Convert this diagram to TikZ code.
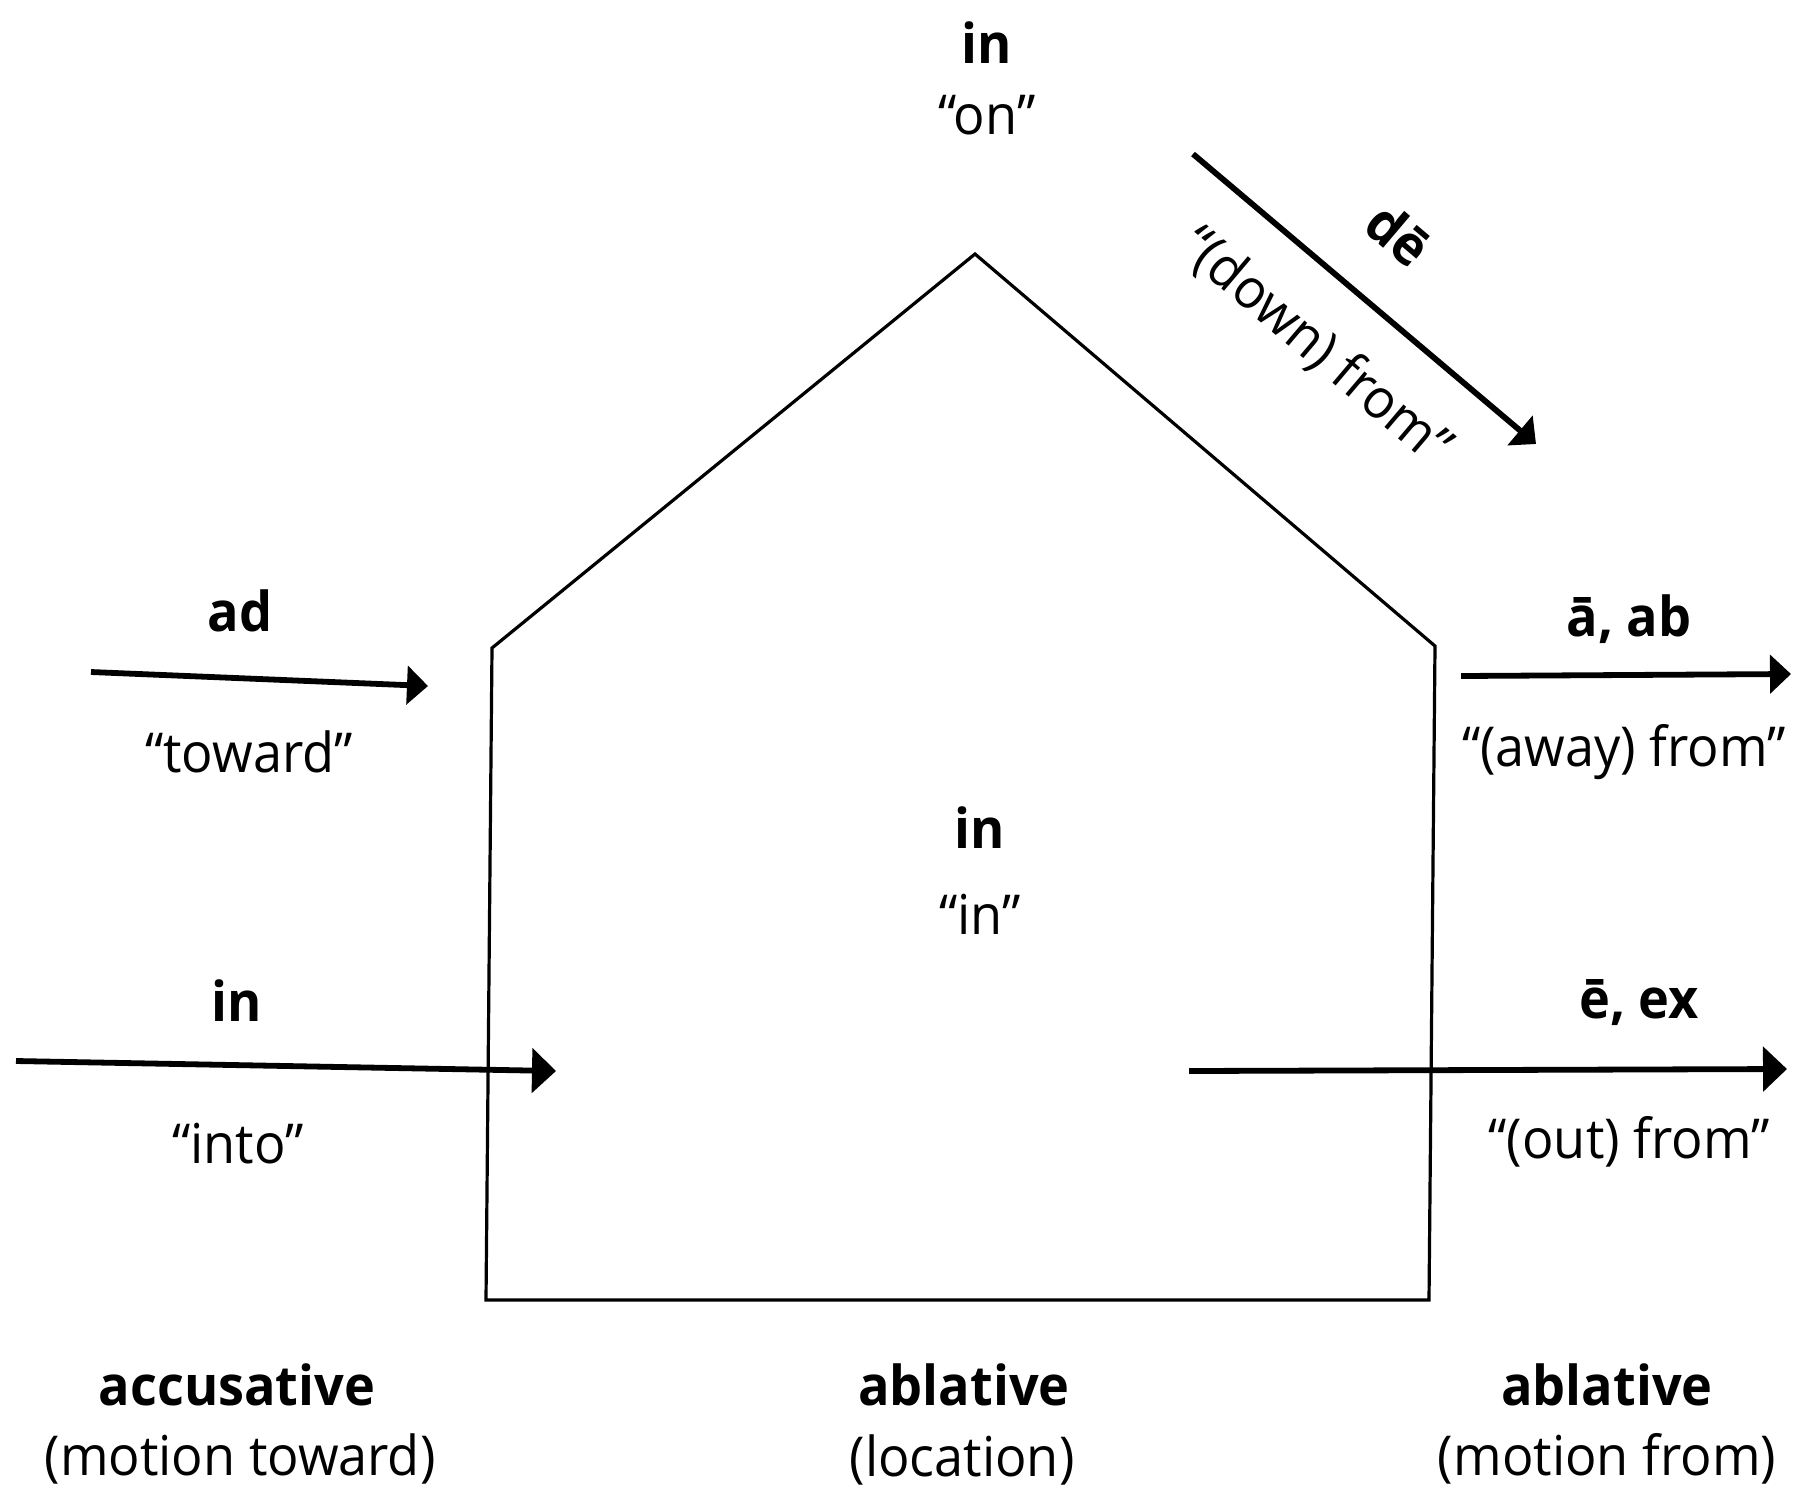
\documentclass[tikz,border=0pt]{standalone}
\usepackage{fontspec}
\setmainfont{Open Sans}[FakeStretch=0.95]
\usetikzlibrary{arrows.meta}
\begin{document}
\begin{tikzpicture}[x=1pt,y=-1pt,
  house/.style={draw, line width=3.2pt, line join=miter},
  arr/.style={line width=5.8pt, -{Triangle[length=24pt,width=44pt]}},
  arrs/.style={line width=5.8pt, -{Triangle[length=21pt,width=38pt]}},
  lat/.style={font=\fontsize{55}{60}\selectfont\bfseries, inner sep=0pt, anchor=base},
  gloss/.style={font=\fontsize{55}{60}\selectfont, inner sep=0pt, anchor=base},
]
\useasboundingbox (0,0) rectangle (1793,1489);
% house
\coordinate (hbl) at (486,1300);
\coordinate (hbr) at (1429,1300);
\coordinate (hlt) at (492,648);
\coordinate (hrt) at (1435,646);
\coordinate (hap) at (975,254);
\draw[house] (hbl) -- (hlt) -- (hap) -- (hrt) -- (hbr) -- cycle;
% arrow end points
\coordinate (ad1) at (91,672);   \coordinate (ad2) at (428,686);
\coordinate (in1) at (16,1061);  \coordinate (in2) at (556,1071);
\coordinate (ab1) at (1461,676); \coordinate (ab2) at (1791,674);
\coordinate (ex1) at (1189,1071);\coordinate (ex2) at (1787,1069);
\coordinate (de1) at (1193,154); \coordinate (de2) at (1536,444);
\draw[arrs] (ad1) -- (ad2);
\draw[arr] (in1) -- (in2);
\draw[arrs] (ab1) -- (ab2);
\draw[arr] (ex1) -- (ex2);
\draw[arrs] (de1) -- (de2);
% labels
\node[lat] (ontop) at (987,63) {in};
\node[gloss] (ongl) at (987,134) {“on”};
\node[font=\fontsize{55}{60}\selectfont\bfseries, inner sep=0pt, rotate=-40.3] (de) at (1399,234) {dē};
\node[font=\fontsize{55}{60}\selectfont, inner sep=0pt, rotate=-40.3] (degl) at (1316,347) {“(down) from”};
\node[lat] (ad) at (240,631) {ad};
\node[gloss] (adgl) at (249,772) {“toward”};
\node[lat] (inmid) at (980,848) {in};
\node[gloss] (inmidgl) at (980,934) {“in”};
\node[lat] (ab) at (1629,636) {ā, ab};
\node[gloss] (abgl) at (1624,766) {“(away) from”};
\node[lat] (inl) at (237,1021) {in};
\node[gloss] (inlgl) at (238,1163) {“into”};
\node[lat] (ex) at (1639,1018) {ē, ex};
\node[gloss] (exgl) at (1629,1158) {“(out) from”};
\node[lat] (acc) at (237,1405) {accusative};
\node[gloss] (accgl) at (240,1475) {(motion toward)};
\node[lat] (abl) at (964,1405) {ablative};
\node[gloss] (ablgl) at (962,1476) {(location)};
\node[lat] (abl2) at (1607,1405) {ablative};
\node[gloss] (abl2gl) at (1607,1475) {(motion from)};
\end{tikzpicture}
\end{document}
